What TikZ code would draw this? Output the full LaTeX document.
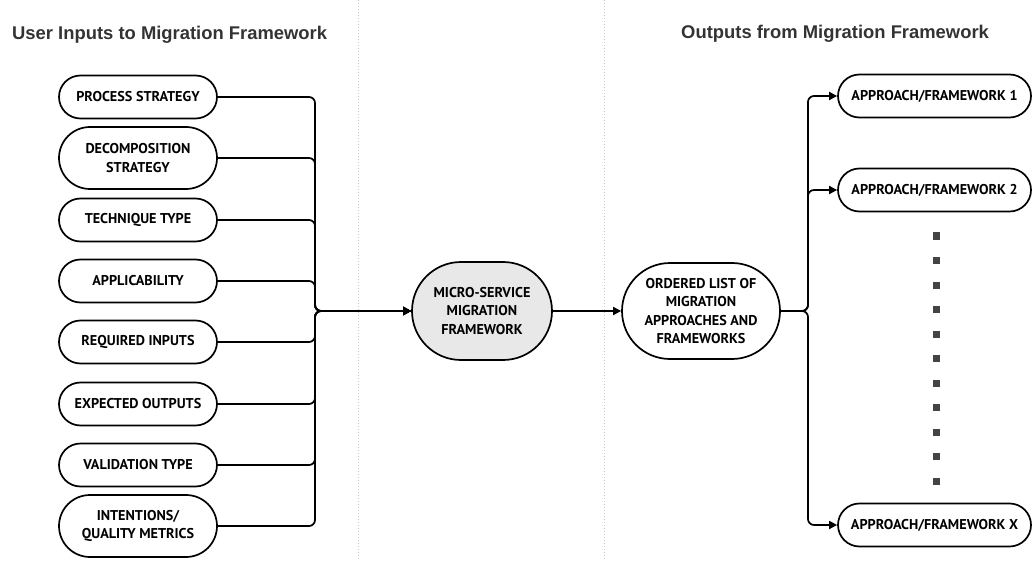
\documentclass[tikz,border=0pt]{standalone}
\usepackage{fontspec}
\setmainfont{PT Sans}
\newfontfamily\titlefont{Liberation Sans}
\usetikzlibrary{arrows.meta,calc}
\definecolor{titlegray}{HTML}{333333}
\definecolor{boxfill}{HTML}{E8E8E8}
\definecolor{sepgray}{HTML}{CCCCCC}
\definecolor{dotgray}{HTML}{444444}
\begin{document}
\begin{tikzpicture}[x=1pt,y=-1pt,
  box/.style={draw=black, line width=1.7pt, fill=white, minimum width=158pt,
    minimum height=43pt, rounded corners=21.5pt, align=center, inner sep=0pt,
    font=\fontsize{14.2}{18.5}\selectfont\bfseries},
  tallbox/.style={box, minimum height=62pt, rounded corners=31pt},
  hubbox/.style={box, minimum width=140pt, minimum height=98pt, rounded corners=49pt, fill=boxfill},
  listbox/.style={box, minimum width=158pt, minimum height=96pt, rounded corners=48pt},
  outbox/.style={box, minimum width=193pt, minimum height=43pt},
  link/.style={line width=1.7pt, rounded corners=6pt},
  arr/.style={link, -{Triangle[length=8pt,width=8pt]}},
  sep/.style={sepgray, line width=1pt, dotted},
  title/.style={font=\titlefont\fontsize{18.4}{22}\selectfont\bfseries, text=titlegray, inner sep=0pt},
  dot/.style={fill=dotgray, draw=none, minimum size=7pt, inner sep=0pt}
]
\useasboundingbox (0,0) rectangle (1032,561);

% column separators
\draw[sep] (358,0) -- (358,561);
\draw[sep] (604,0) -- (604,561);

% headings
\node[title, anchor=west] (tin) at (12,35) {User Inputs to Migration Framework};
\node[title, anchor=west] (tout) at (681,34) {Outputs from Migration Framework};

% user inputs
\node[box] (i1) at (138,97) {PROCESS STRATEGY};
\node[tallbox] (i2) at (138,158) {DECOMPOSITION\\STRATEGY};
\node[box] (i3) at (138,220) {TECHNIQUE TYPE};
\node[box] (i4) at (138,281) {APPLICABILITY};
\node[box] (i5) at (138,342) {REQUIRED INPUTS};
\node[box] (i6) at (138,404) {EXPECTED OUTPUTS};
\node[box] (i7) at (138,465) {VALIDATION TYPE};
\node[tallbox] (i8) at (138,526) {INTENTIONS/\\QUALITY METRICS};

% framework and its result
\node[hubbox] (hub) at (482,311) {MICRO-SERVICE\\MIGRATION\\FRAMEWORK};
\node[listbox] (list) at (701,311) {ORDERED LIST OF\\MIGRATION\\APPROACHES AND\\FRAMEWORKS};

% outputs
\node[outbox] (o1) at (934.5,96) {APPROACH/FRAMEWORK 1};
\node[outbox] (o2) at (934.5,190) {APPROACH/FRAMEWORK 2};
\node[outbox] (ox) at (934.5,525) {APPROACH/FRAMEWORK X};

% ellipsis between outputs
\foreach \k in {0,...,10}
  \node[dot] (d\k) at (936,{236+24.5*\k}) {};

% bus coordinates
\coordinate (merge) at (315,311);
\coordinate (split) at (808,311);

% inputs into the framework
\foreach \n in {i1,i2,i3,i4,i5,i6,i7,i8}
  \draw[arr] (\n.east) -| (merge) -- (hub.west);

\draw[arr] (hub.east) -- (list.west);

% fan-out to the outputs
\foreach \n in {o1,o2,ox}
  \draw[arr] (list.east) -- (split) |- (\n.west);
\end{tikzpicture}
\end{document}
